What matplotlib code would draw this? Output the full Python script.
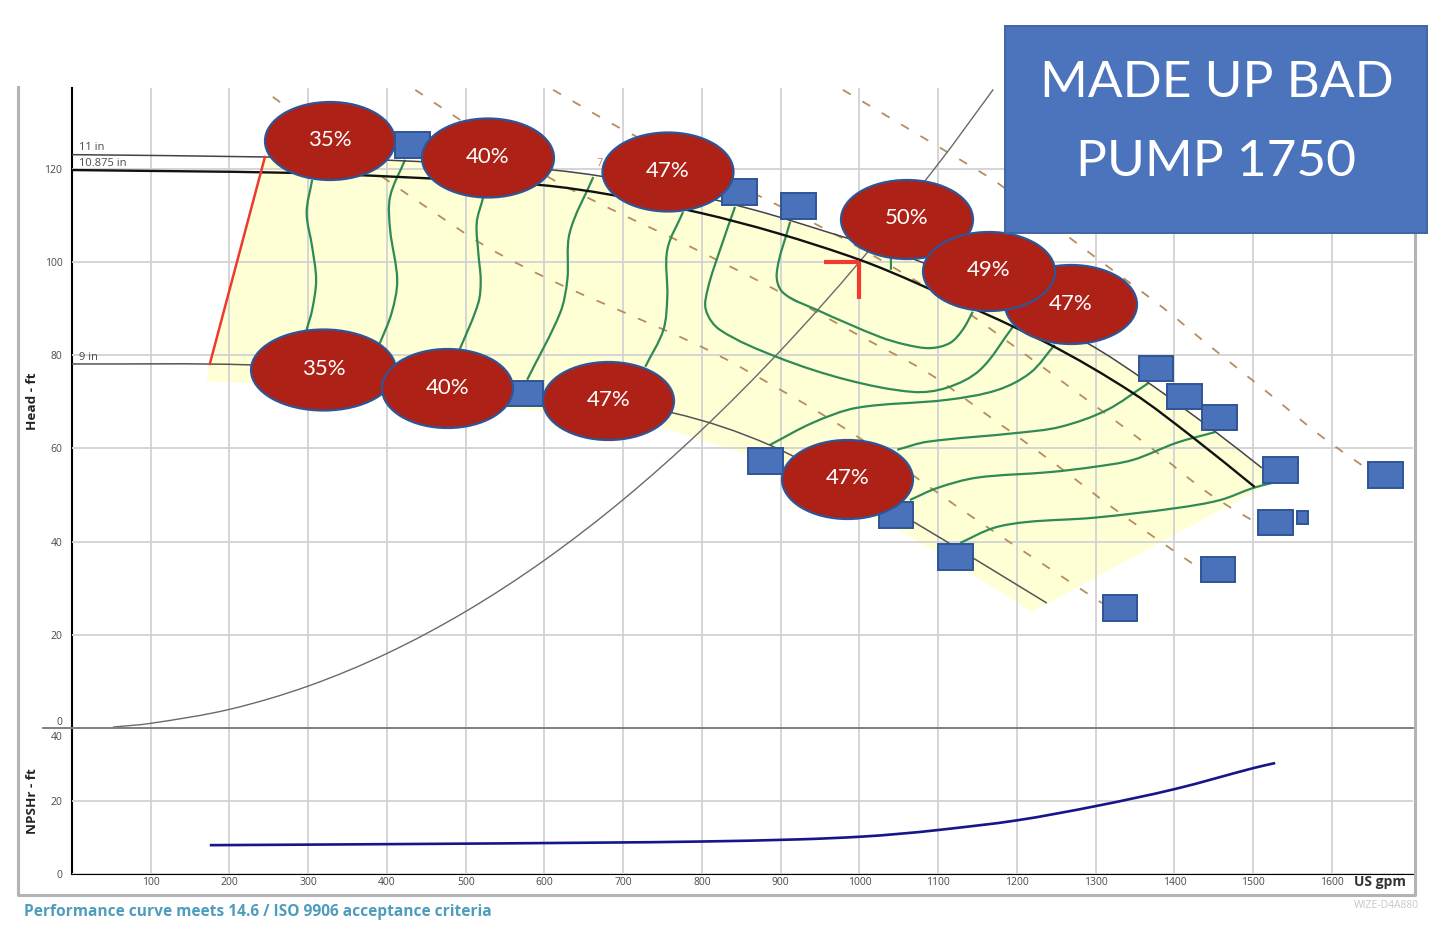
import math
import matplotlib
matplotlib.use("Agg")
import matplotlib.pyplot as plt
from matplotlib.path import Path
from matplotlib.patches import PathPatch, Polygon, Ellipse, Rectangle
from matplotlib.transforms import ScaledTranslation

W, H = 1442, 932

# ---- chart values (US gpm / ft) ----
gpm_ticks = [100, 200, 300, 400, 500, 600, 700, 800, 900, 1000, 1100, 1200, 1300, 1400, 1500, 1600]
head_ticks = [0, 20, 40, 60, 80, 100, 120]
npsh_ticks = [0, 20, 40]

q_11 = [0, 245, 417, 611, 734, 865, 963, 1081, 1185, 1289, 1365, 1454, 1511]
h_11 = [123, 122.5, 121.7, 119.7, 116.5, 111.2, 106.2, 99.8, 91.2, 82.6, 74.3, 63.3, 55.8]
q_10875 = [0, 277, 417, 594, 684, 798, 895, 1001, 1077, 1238, 1347, 1423, 1502]
h_10875 = [119.7, 119.1, 118.2, 116.5, 114.4, 110.5, 106.2, 100.4, 95.1, 82.6, 71.9, 62.4, 51.7]
q_9 = [0, 226, 417, 607, 763, 886, 1026, 1071, 1144, 1238]
h_9 = [78.1, 77.9, 75.8, 71.5, 67.6, 60.7, 48.1, 44.0, 36.5, 26.8]

q_region = [171, 175, 245, 417, 611, 734, 865, 963, 1081, 1185, 1289, 1365, 1454, 1511,
            1524, 1506, 1219, 1100, 1048, 859, 747, 417, 226]
h_region = [74.3, 78.1, 122.5, 121.7, 119.7, 116.5, 111.2, 106.2, 99.8, 91.2, 82.6, 74.3, 63.3, 55.8,
            52.8, 51.1, 24.9, 37.6, 42.5, 58.6, 64.6, 71.5, 74.0]

q_minflow = [175, 245]
h_minflow = [78.1, 122.5]

q_system = [52, 100, 200, 300, 400, 500, 600, 700, 800, 900, 1000, 1100, 1170]
h_system = [0.2, 1, 4, 9, 16, 25, 36, 49, 64, 81, 100, 121, 137]

q_npsh = [175, 417, 671, 800, 925, 1000, 1050, 1102, 1200, 1300, 1401, 1500, 1528]
h_npsh = [7.9, 8.2, 8.6, 8.9, 9.5, 10.2, 11.0, 12.1, 14.7, 18.6, 23.3, 29.0, 30.4]

q_duty_h = [955, 1000]
h_duty_h = [100, 100]
q_duty_v = [1000, 1000]
h_duty_v = [100, 92]

q_pow_a = [255, 387, 446, 527, 613, 702, 789, 848, 984, 1143, 1308]
h_pow_a = [135.4, 119.1, 112.2, 103.2, 95.7, 89.1, 82.6, 77.5, 64.0, 45.3, 26.8]
q_pow_b = [436, 489, 605, 686, 775, 889, 1003, 1087, 1166, 1245, 1322, 1401, 1439]
h_pow_b = [136.9, 130.9, 118.2, 111.2, 104.1, 94.4, 83.9, 76.2, 66.7, 57.1, 47.2, 37.8, 33.5]
q_pow_c = [611, 705, 878, 966, 1022, 1132, 1185, 1289, 1369, 1443, 1519]
h_pow_c = [136.9, 127.9, 113.7, 106.2, 100.9, 89.7, 83.3, 70.4, 60.3, 50.4, 42.5]
q_pow_e = [979, 1128, 1179, 1259, 1309, 1386, 1435, 1511, 1588, 1661]
h_pow_e = [136.9, 121.9, 116.5, 106.2, 99.8, 90.1, 83.3, 73.0, 62.4, 53.7]

q_eff_1 = [305, 298, 305, 310, 305, 298, 290]
h_eff_1 = [117.6, 110.5, 103.2, 96.1, 89.7, 85.4, 79.0]
q_eff_2 = [423, 404, 404, 413, 406, 391, 376]
h_eff_2 = [121.9, 114.0, 106.9, 96.1, 89.1, 82.6, 76.8]
q_eff_3 = [522, 514, 516, 519, 516, 493, 480]
h_eff_3 = [113.7, 108.4, 101.9, 96.1, 91.2, 81.5, 76.8]
q_eff_4 = [662, 632, 629, 620, 578]
h_eff_4 = [118.2, 106.2, 96.1, 89.1, 74.7]
q_eff_5 = [776, 756, 756, 751, 728]
h_eff_5 = [110.7, 102.6, 92.5, 85.4, 77.5]
q_eff_6 = [842, 823, 808, 805, 823, 895, 984, 1068, 1111, 1153, 1195]
h_eff_6 = [111.8, 102.6, 94.6, 89.7, 85.4, 79.6, 74.7, 72.1, 73.0, 76.8, 86.1]
q_eff_7 = [912, 895, 903, 946, 1026, 1060, 1090, 1115, 1131, 1144]
h_eff_7 = [108.6, 97.6, 93.4, 89.7, 83.9, 82.2, 81.5, 82.6, 85.4, 89.3]
q_eff_s = [1040, 1040]
h_eff_s = [100.9, 98.3]
q_eff_8 = [886, 941, 997, 1111, 1175, 1217, 1248]
h_eff_8 = [60.7, 65.5, 68.7, 70.4, 72.5, 76.2, 82.2]
q_eff_9 = [1048, 1086, 1200, 1255, 1314, 1367]
h_eff_9 = [59.7, 61.4, 63.3, 64.6, 68.2, 74.0]
q_eff_10 = [1064, 1099, 1149, 1242, 1297, 1347, 1403, 1452]
h_eff_10 = [48.9, 51.5, 53.7, 54.9, 56.0, 57.5, 61.2, 63.5]
q_eff_11 = [1128, 1170, 1213, 1297, 1403, 1458, 1500, 1525]
h_eff_11 = [39.7, 42.9, 44.2, 45.1, 47.2, 48.9, 51.5, 52.6]

# ---- overlay annotations, on a 1442x932 picture scale ----
ell_labels = ["35%", "35%", "40%", "40%", "47%", "47%", "47%", "47%", "50%", "49%"]
ell_x = [330, 323.5, 488, 447.5, 668, 608.5, 1071, 847.5, 907, 989]
ell_y = [141, 370, 158, 388.5, 172, 401, 304.5, 479.5, 219.5, 271.5]
ell_w = [130, 145, 132, 131, 131, 131, 132, 131, 132, 132]
ell_h = [78, 81, 79, 79, 79, 78, 79, 79, 79, 79]

box_x0 = [395, 722, 781, 508, 748, 879, 938, 1139, 1167, 1202, 1263, 1368, 1258, 1297, 1201, 1103]
box_y0 = [132, 179, 193, 381, 448, 502, 544, 356, 384, 405, 457, 462, 510, 511, 557, 595]
box_x1 = [430, 757, 816, 543, 783, 913, 973, 1173, 1202, 1237, 1298, 1403, 1293, 1308, 1235, 1137]
box_y1 = [158, 205, 219, 406, 474, 528, 570, 381, 409, 430, 483, 488, 535, 524, 582, 621]

title_lines = ["MADE UP BAD", "PUMP 1750"]

GRID = "#d2d2d2"
TICK = "#4a4a4a"
TICK_FONT = ["Open Sans", "DejaVu Sans"]


def smooth(q, h, sy):
    """Smooth path through the read points; sy balances the axis scales."""
    pts = list(zip(q, h))
    n = len(pts)

    def tangent(i):
        p0, p2 = pts[max(i - 1, 0)], pts[min(i + 1, n - 1)]
        dx, dy = p2[0] - p0[0], (p2[1] - p0[1]) * sy
        d = math.hypot(dx, dy) or 1.0
        return dx / d, dy / d

    verts, codes = [pts[0]], [Path.MOVETO]
    for i in range(n - 1):
        p1, p2 = pts[i], pts[i + 1]
        seg = math.hypot(p2[0] - p1[0], (p2[1] - p1[1]) * sy) / 3
        t1, t2 = tangent(i), tangent(i + 1)
        verts += [(p1[0] + t1[0] * seg, p1[1] + t1[1] * seg / sy),
                  (p2[0] - t2[0] * seg, p2[1] - t2[1] * seg / sy), p2]
        codes += [Path.CURVE4] * 3
    return Path(verts, codes)


def curve(ax, q, h, sy=5.9, **kw):
    ax.add_patch(PathPatch(smooth(q, h, sy), fill=False, capstyle="butt", **kw))


fig = plt.figure(figsize=(W / 100, H / 100), dpi=100, facecolor="white")


def axes_px(x0, y0, x1, y1, **kw):
    return fig.add_axes([x0 / W, 1 - y1 / H, (x1 - x0) / W, (y1 - y0) / H], **kw)


ax = axes_px(72, 88, 1413, 728)
ax2 = axes_px(72, 728, 1413, 874)
ov = fig.add_axes([0, 0, 1, 1], facecolor="none", zorder=10)
ov.set_xlim(0, W)
ov.set_ylim(H, 0)
ov.axis("off")

for a in (ax, ax2):
    a.set_xlim(0, 1703)
    a.set_xticks(gpm_ticks)
    a.grid(True, color=GRID, lw=1.3, zorder=2)
    a.set_axisbelow(False)
    a.spines["top"].set_visible(False)
    a.spines["right"].set_visible(False)
    a.spines["left"].set_linewidth(1.5)
    a.tick_params(length=0, labelsize=7.5, labelcolor=TICK, pad=7)

# ---- head panel ----
ax.set_ylim(0, 137.3)
ax.set_yticks(head_ticks)
ax.set_yticklabels([str(v) for v in head_ticks], family=TICK_FONT)
ax.get_yticklabels()[0].set_va("bottom")
ax.set_xticklabels([])
ax.spines["bottom"].set_visible(False)

ax.add_patch(Polygon(list(zip(q_region, h_region)), closed=True, fc="#ffffd6", ec="none", zorder=1))

for q, h in [(q_pow_a, h_pow_a), (q_pow_b, h_pow_b), (q_pow_c, h_pow_c), (q_pow_e, h_pow_e)]:
    curve(ax, q, h, ec="#b58d5e", lw=1.3, ls=(0, (5.0, 7.5)), zorder=3)

curve(ax, q_system, h_system, ec="#6a6a6a", lw=1.0, zorder=3)
for q, h in [(q_eff_1, h_eff_1), (q_eff_2, h_eff_2), (q_eff_3, h_eff_3), (q_eff_4, h_eff_4),
             (q_eff_5, h_eff_5), (q_eff_6, h_eff_6), (q_eff_7, h_eff_7), (q_eff_s, h_eff_s),
             (q_eff_8, h_eff_8), (q_eff_9, h_eff_9), (q_eff_10, h_eff_10), (q_eff_11, h_eff_11)]:
    curve(ax, q, h, ec="#2f8a55", lw=1.6, zorder=4)

curve(ax, q_11, h_11, ec="#444444", lw=1.1, zorder=5)
curve(ax, q_9, h_9, ec="#555555", lw=1.1, zorder=5)
curve(ax, q_10875, h_10875, ec="#111111", lw=1.7, zorder=6)

ax.plot(q_minflow, h_minflow, color="#ee3a2e", lw=1.8, zorder=6)
ax.plot(q_duty_h, h_duty_h, color="#f23b2f", lw=3, zorder=7, solid_capstyle="butt")
ax.plot(q_duty_v, h_duty_v, color="#f23b2f", lw=3, zorder=7, solid_capstyle="butt")

# ---- NPSH panel ----
ax2.set_ylim(0, 40)
ax2.set_yticks(npsh_ticks)
ax2.set_yticklabels([str(v) for v in npsh_ticks], family=TICK_FONT)
top_label = ax2.get_yticklabels()[2]
top_label.set_va("top")
top_label.set_transform(top_label.get_transform()
                        + ScaledTranslation(0, -3 / 72, fig.dpi_scale_trans))
ax2.set_xticklabels([str(v) for v in gpm_ticks], family=TICK_FONT)
ax2.tick_params(axis="x", pad=2)
ax2.spines["top"].set_visible(False)
curve(ax2, q_npsh, h_npsh, sy=4.6, ec="#15158c", lw=1.9, zorder=4)

# ---- frame and stray chart text ----
ov.plot([18, 18, 1415, 1415], [87, 895, 895, 87], color="#b4b4b8", lw=2.2, zorder=1)
ov.plot([43, 1413], [728, 728], color="#808080", lw=1.4, zorder=1)

for txt, y in [("11 in", 148), ("10.875 in", 163), ("9 in", 357)]:
    ov.text(79, y, txt, fontsize=8, color=TICK, va="center", family=TICK_FONT, zorder=2)
ov.text(597, 163, "7", fontsize=8, color="#b58d5e", va="center", family=TICK_FONT, zorder=2)

ov.text(33, 401, "Head - ft", rotation=90, fontsize=9.7, fontweight="bold", color="#222222",
        ha="center", va="center", family=TICK_FONT)
ov.text(33, 801, "NPSHr - ft", rotation=90, fontsize=9.7, fontweight="bold", color="#222222",
        ha="center", va="center", family=TICK_FONT)
ov.text(1380, 882, "US gpm", fontsize=10, fontweight="bold", color="#333333",
        ha="center", va="center", family=TICK_FONT)
ov.text(24, 912, "Performance curve meets 14.6 / ISO 9906 acceptance criteria", fontsize=11.2,
        fontweight="bold", color="#4f9dbd", ha="left", va="center", family=TICK_FONT)
ov.text(1419, 906, "WIZE-D4A880", fontsize=7.5, color="#c8c8c8", ha="right", va="center",
        family=TICK_FONT)

# ---- pasted shapes ----
for x0, y0, x1, y1 in zip(box_x0, box_y0, box_x1, box_y1):
    ov.add_patch(Rectangle((x0, y0), x1 - x0, y1 - y0, fc="#4a72bb", ec="#2f5597", lw=1.4, zorder=5))

for i, lab in enumerate(ell_labels):
    ov.add_patch(Ellipse((ell_x[i], ell_y[i]), ell_w[i], ell_h[i], fc="#ae2116", ec="#2f5597",
                         lw=1.6, zorder=6 + i * 0.1))
    ov.text(ell_x[i], ell_y[i] - 1, lab, color="white", fontsize=16, family=["Lato", "DejaVu Sans"],
            ha="center", va="center", zorder=6.05 + i * 0.1)

ov.add_patch(Rectangle((1005, 26), 422, 207, fc="#4c74bd", ec="#3f66a3", lw=1.4, zorder=8))
for y, line in zip([83, 162], title_lines):
    ov.text(1216.5, y, line, color="white", fontsize=37, family=["Lato", "DejaVu Sans"],
            ha="center", va="center", zorder=9)

fig.savefig("out.png", dpi=100)
